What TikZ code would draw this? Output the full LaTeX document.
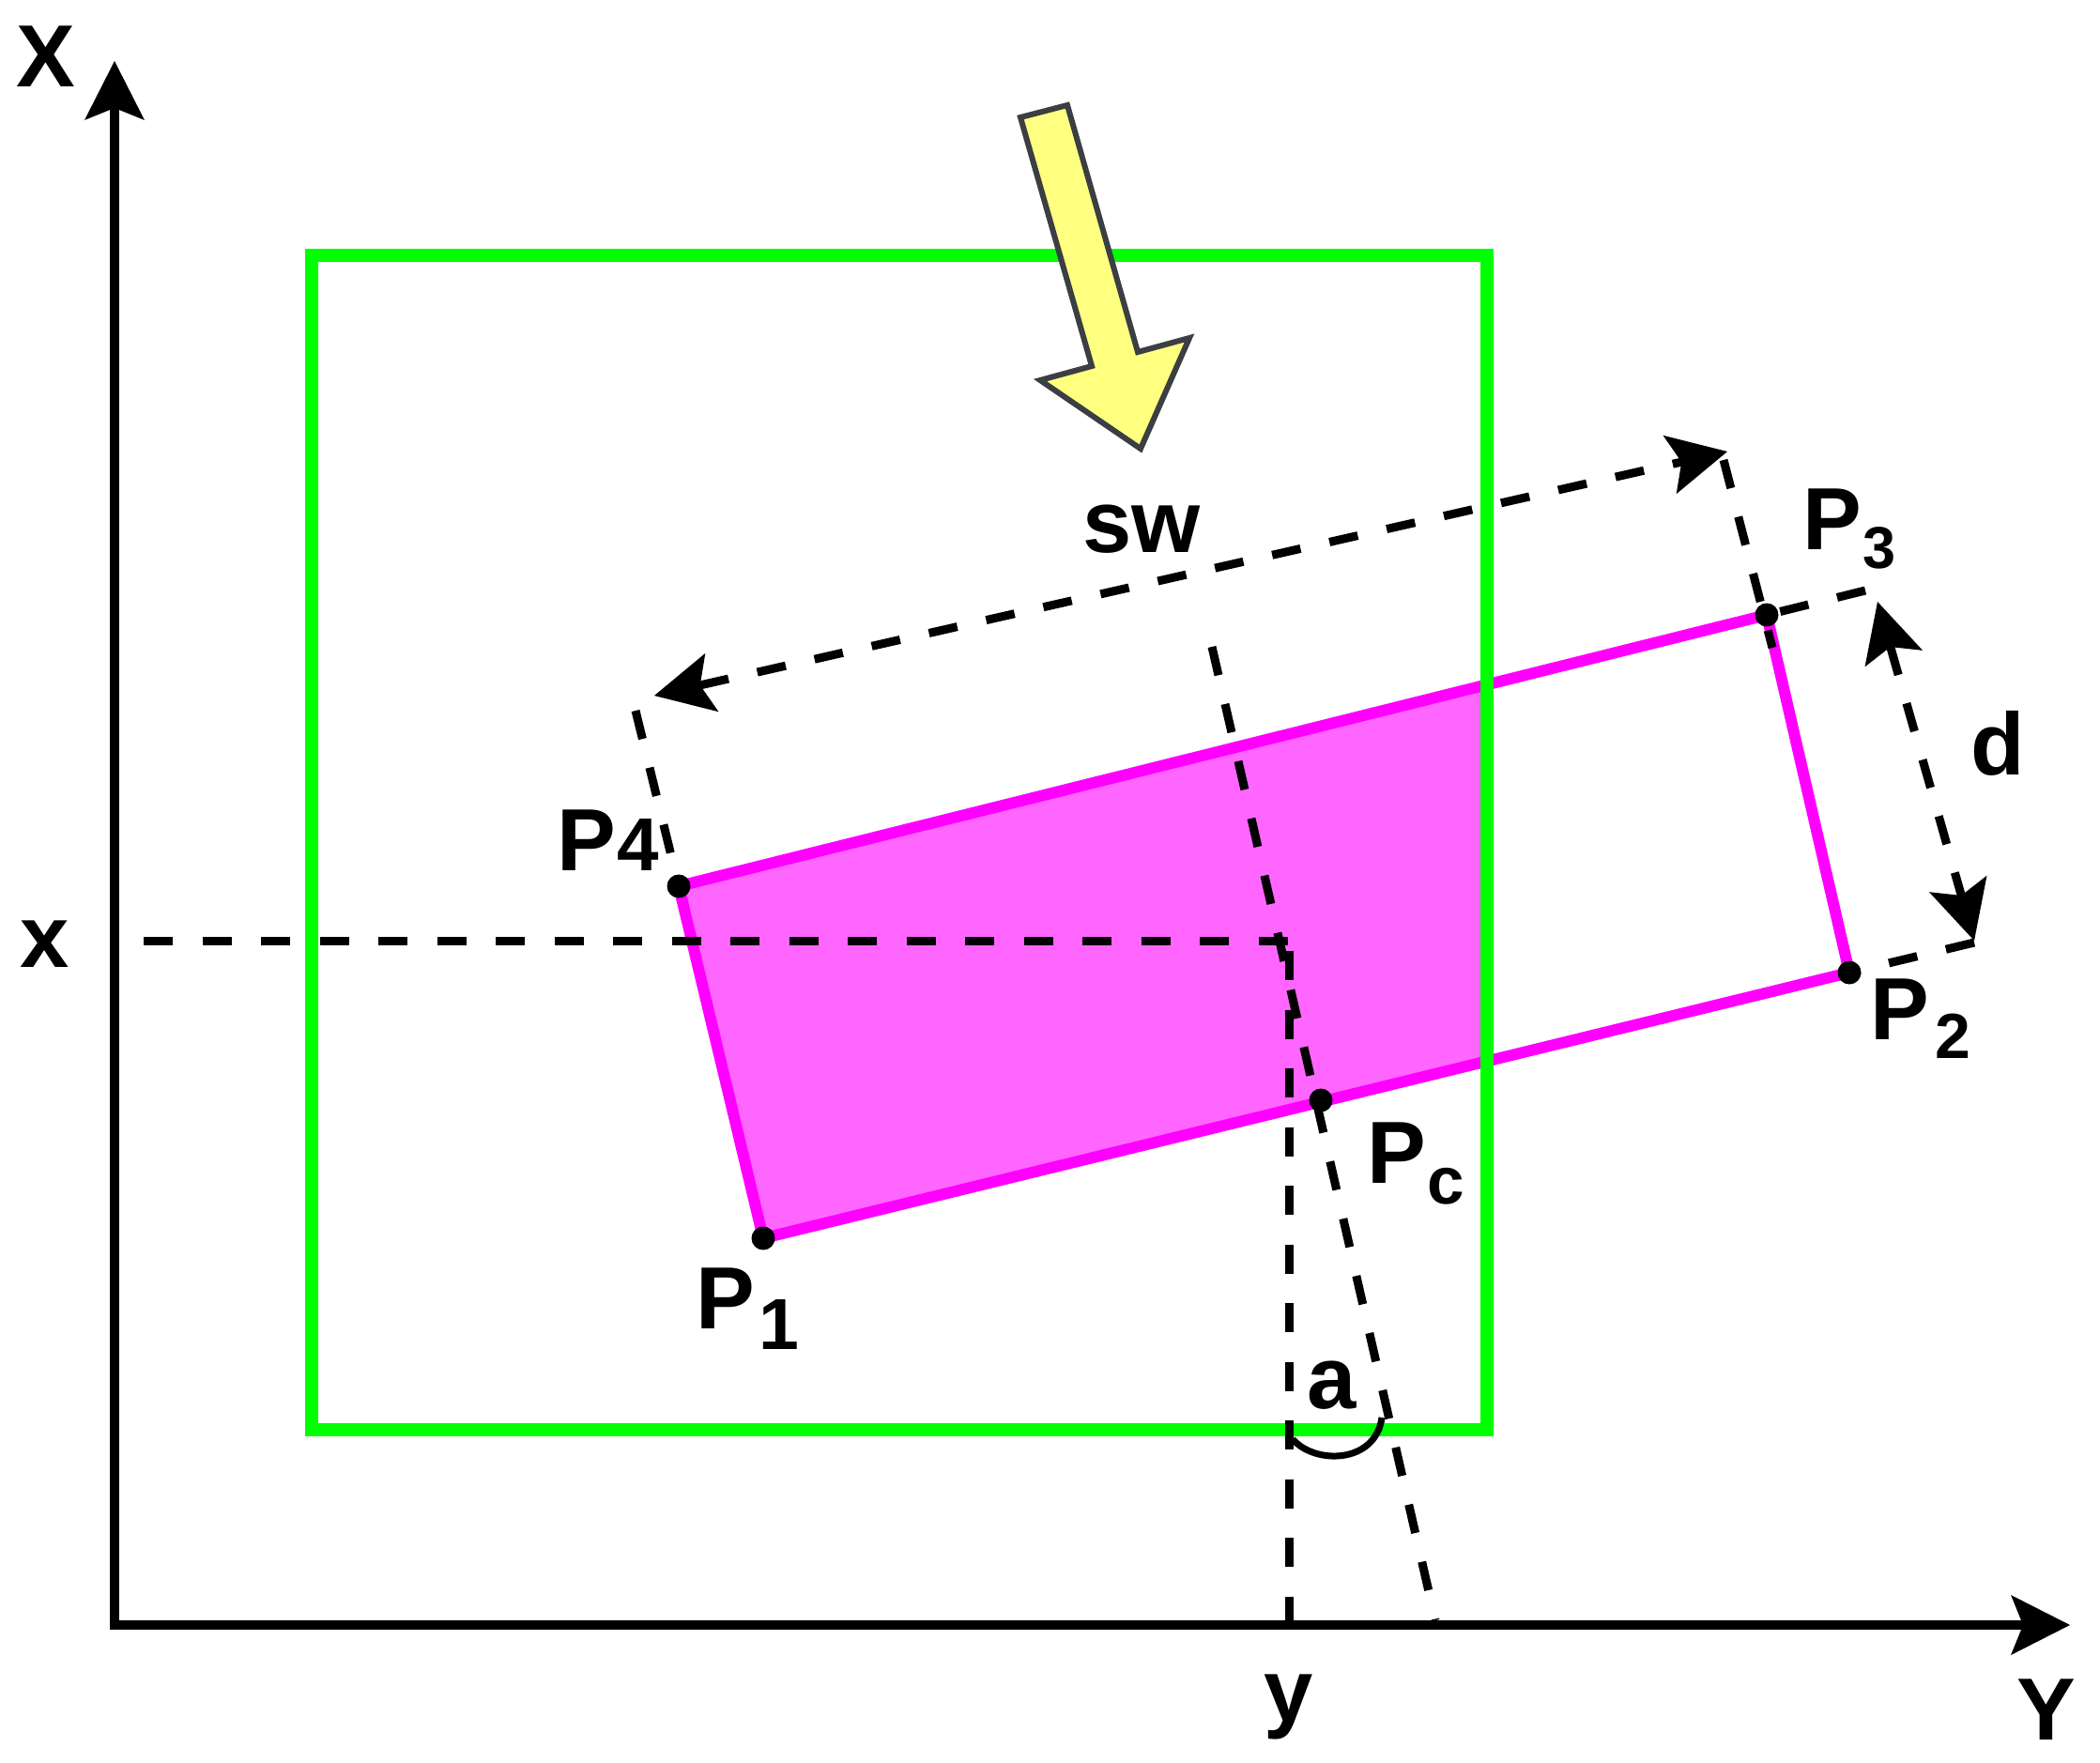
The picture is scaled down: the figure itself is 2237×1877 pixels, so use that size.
\documentclass[tikz,border=0pt]{standalone}
\usepackage{fontspec}
\setmainfont{Liberation Sans}
\usetikzlibrary{arrows.meta}
\definecolor{rectgreen}{HTML}{00FF00}
\definecolor{magline}{HTML}{FF00FF}
\definecolor{magfill}{HTML}{FF66FF}
\definecolor{arrowyellow}{HTML}{FFFF80}
\definecolor{arrowgray}{HTML}{3B3E42}
\begin{document}
\begin{tikzpicture}[x=1pt,y=-1pt,
  >={Stealth[length=63pt,width=64pt,inset=13pt,line width=0pt]},
  axisline/.style={line width=10pt,line join=miter},
  dashline/.style={line width=9pt,dash pattern=on 31pt off 31.5pt},
  dot/.style={circle,fill=black,inner sep=0pt,minimum size=25pt},
  lbl/.style={inner sep=0pt,anchor=base,font=\bfseries\fontsize{94}{100}\selectfont},
  sub/.style={inner sep=0pt,anchor=base,font=\bfseries\fontsize{#1}{#1}\selectfont}]
\useasboundingbox (0,0) rectangle (2237,1877);
% corner points
\coordinate (P1) at (813,1319);
\coordinate (P2) at (1970,1036);
\coordinate (P3) at (1882,655);
\coordinate (P4) at (723,944);
\coordinate (Pc) at (1407,1172);
% magenta fill clipped to green frame
\begin{scope}
  \clip (332,272) rectangle (1584,1523);
  \fill[magfill] (P1) -- (P2) -- (P3) -- (P4) -- cycle;
\end{scope}
\draw[magline,line width=12pt,line join=round] (P1) -- (P2) -- (P3) -- (P4) -- cycle;
% green frame
\draw[rectgreen,line width=14pt] (332,272) rectangle (1584,1523);
% yellow arrow
\draw[arrowgray,fill=arrowyellow,line width=6pt,line join=miter]
  (1087,125) -- (1137,112) -- (1212,375) -- (1267,360) -- (1215,478)
  -- (1108,405) -- (1163,390) -- cycle;
% dashed construction lines
\coordinate (Hs) at (153,1002);
\coordinate (Cr) at (1373,1002);
\coordinate (Vs) at (1373,1013);
\coordinate (Vb) at (1373,1731);
\draw[dashline] (Hs) -- (Cr);
\draw[dashline] (Vs) -- (Vb);
\coordinate (St) at (1291,689);
\coordinate (Sb) at (1529,1726);
\draw[dashline] (St) -- (Sb);
% extension lines
\coordinate (E4) at (677,757);
\coordinate (E3a) at (1836,490);
\coordinate (E3b) at (1888,690);
\coordinate (E3c) at (1987,629);
\coordinate (E2) at (2103,1004);
\draw[dashline] (E4) -- (P4);
\draw[dashline] (E3a) -- (E3b);
\draw[dashline] (E3c) -- (P3);
\draw[dashline] (E2) -- (P2);
% dimension arrows
\coordinate (SWa) at (697,741);
\coordinate (SWb) at (1840,481);
\coordinate (Da) at (2000,641);
\coordinate (Db) at (2103,1002);
\draw[dashline,<->] (SWa) -- (SWb);
\draw[dashline,<->] (Da) -- (Db);
% angle mark
\draw[line width=7pt] (1377,1533) .. controls (1400,1560) and (1465,1560) .. (1472,1510);
% axes
\coordinate (O) at (122,1731);
\coordinate (Xt) at (122,65);
\coordinate (Yt) at (2205,1731);
\draw[axisline,<->] (Xt) -- (O) -- (Yt);
% dots
\node[dot] (d1) at (P1) {};
\node[dot] (d2) at (P2) {};
\node[dot] (d3) at (P3) {};
\node[dot] (d4) at (P4) {};
\node[dot] (dc) at (Pc) {};
% labels
\node[lbl] (Xl) at (49,92) {X};
\node[lbl] (Yl) at (2180,1853) {Y};
\node[lbl] (xl) at (48,1030) {x};
\node[lbl] (yl) at (1373,1833) {y};
\node[lbl] (swl) at (1216,588) {sw};
\node[lbl] (dl) at (2128,825) {d};
\node[lbl] (al) at (1419,1500) {a};
\node[lbl] (P4l) at (625,927) {P};
\node[sub=80] (P4s) at (680,927) {4};
\node[lbl] (P1l) at (773,1415) {P};
\node[sub=77] (P1s) at (830,1437) {1};
\node[lbl] (P3l) at (1952,585) {P};
\node[sub=63] (P3s) at (2002,605) {3};
\node[lbl] (P2l) at (2024,1107) {P};
\node[sub=68] (P2s) at (2080,1127) {2};
\node[lbl] (Pcl) at (1488,1260) {P};
\node[sub=71] (Pcs) at (1540,1282) {c};
\end{tikzpicture}
\end{document}
